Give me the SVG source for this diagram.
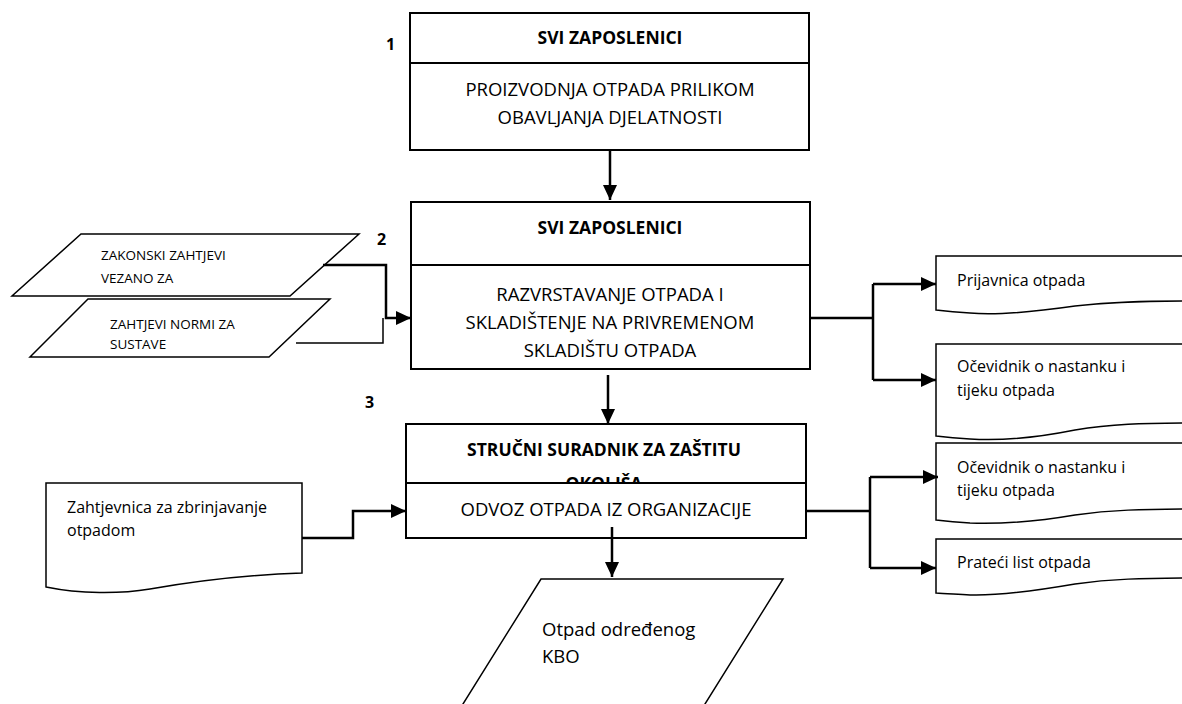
<svg xmlns="http://www.w3.org/2000/svg" width="1182" height="704" viewBox="0 0 1182 704">
<defs>
<style>
.box{fill:#fff;stroke:#000;stroke-width:2}
.shp{fill:#fff;stroke:#000;stroke-width:1.5}
.c{fill:none;stroke:#000;stroke-width:2.5}
.t{fill:none;stroke:#000;stroke-width:1.5}
.h{font-family:"Open Sans","Liberation Sans",sans-serif;font-weight:bold;font-size:17.5px;fill:#000;text-anchor:middle}
.m{font-family:"Open Sans","Liberation Sans",sans-serif;font-size:18.5px;fill:#000;text-anchor:middle}
.d{font-family:"Open Sans","Liberation Sans",sans-serif;font-size:16px;fill:#000}
.s{font-family:"Open Sans","Liberation Sans",sans-serif;font-size:13.5px;fill:#000}
.n{font-family:"Open Sans","Liberation Sans",sans-serif;font-weight:bold;font-size:16px;fill:#000}
</style>
<marker id="ar" markerUnits="userSpaceOnUse" markerWidth="15" markerHeight="14" refX="15" refY="7" orient="auto">
<path d="M0,0 L15,7 L0,14 z" fill="#000"/>
</marker>
<clipPath id="cp3"><rect x="406" y="424" width="400" height="58"/></clipPath>
</defs>

<g id="num">
<text class="n" x="386" y="50">1</text>
<text class="n" x="377" y="245">2</text>
<text class="n" x="365" y="408">3</text>
</g>

<g id="n1">
<rect class="box" x="410" y="13" width="399" height="137"/>
<line class="box" x1="410" y1="63" x2="809" y2="63"/>
<text class="h" x="610" y="44">SVI ZAPOSLENICI</text>
<text class="m" x="610" y="96">PROIZVODNJA OTPADA PRILIKOM</text>
<text class="m" x="610" y="124">OBAVLJANJA DJELATNOSTI</text>
</g>

<g id="n2">
<rect class="box" x="411" y="202" width="399" height="167"/>
<line class="box" x1="411" y1="265" x2="810" y2="265"/>
<text class="h" x="610" y="234">SVI ZAPOSLENICI</text>
<text class="m" x="610" y="301">RAZVRSTAVANJE OTPADA I</text>
<text class="m" x="610" y="329">SKLADIŠTENJE NA PRIVREMENOM</text>
<text class="m" x="610" y="357">SKLADIŠTU OTPADA</text>
</g>

<g id="n3">
<rect class="box" x="406" y="424" width="400" height="114"/>
<line class="box" x1="406" y1="483" x2="806" y2="483"/>
<text class="h" x="604" y="456">STRUČNI SURADNIK ZA ZAŠTITU</text>
<text class="h" x="604" y="490" clip-path="url(#cp3)">OKOLIŠA</text>
<text class="m" x="606" y="516">ODVOZ OTPADA IZ ORGANIZACIJE</text>
</g>

<g id="p1">
<polygon class="shp" points="81,234 359,234 290,296 12,296"/>
<text class="s" x="101" y="260">ZAKONSKI ZAHTJEVI</text>
<text class="s" x="101" y="283">VEZANO ZA</text>
</g>

<g id="p2">
<polygon class="shp" points="88,299 330,299 269,357 30,357"/>
<text class="s" x="110" y="329">ZAHTJEVI NORMI ZA</text>
<text class="s" x="110" y="349">SUSTAVE</text>
</g>

<g id="doc1">
<path class="shp" d="M936,256 H1200 V301 C1140,301 1110,302 1075,306 C1040,311 1000,316 970,313 C955,312 945,311 936,310 Z"/>
<text class="d" x="957" y="286">Prijavnica otpada</text>
</g>

<g id="doc2">
<path class="shp" d="M936,344 H1200 V423 C1140,423 1110,424 1075,430 C1040,437 1000,441 970,439 C955,438 945,437 936,436 Z"/>
<text class="d" x="957" y="372">Očevidnik o nastanku i</text>
<text class="d" x="957" y="396">tijeku otpada</text>
</g>

<g id="doc3">
<path class="shp" d="M936,443 H1200 V509 C1140,509 1110,510 1075,515 C1040,521 1000,524 970,523 C955,522 945,521 936,520 Z"/>
<text class="d" x="957" y="473">Očevidnik o nastanku i</text>
<text class="d" x="957" y="496">tijeku otpada</text>
</g>

<g id="doc4">
<path class="shp" d="M936,539 H1200 V578 C1140,578 1110,579 1075,584 C1040,590 1000,596 970,595 C955,594 945,594 936,593 Z"/>
<text class="d" x="957" y="568">Prateći list otpada</text>
</g>

<g id="doc5">
<path class="shp" d="M46,483 H302 V573 C240,575 190,582 150,589 C120,594 80,594 46,587 Z"/>
<text class="d" x="67" y="513">Zahtjevnica za zbrinjavanje</text>
<text class="d" x="67" y="536">otpadom</text>
</g>

<g id="out">
<path class="shp" d="M541,579 H783 L700,712 H458 Z"/>
<text class="d" x="542" y="636" style="font-size:18.5px">Otpad određenog</text>
<text class="d" x="542" y="663" style="font-size:18.5px">KBO</text>
</g>

<g id="connectors">
<line class="c" x1="610" y1="150" x2="610" y2="200" marker-end="url(#ar)"/>
<line class="c" x1="608" y1="375" x2="608" y2="424" marker-end="url(#ar)"/>
<line class="c" x1="612" y1="527" x2="612" y2="577" marker-end="url(#ar)"/>
<polyline class="c" points="323,265 386,265 386,318 411,318" marker-end="url(#ar)"/>
<polyline class="t" points="296,343 383,343 383,318"/>
<line class="c" x1="810" y1="318" x2="873" y2="318"/>
<line class="c" x1="873" y1="284" x2="873" y2="380"/>
<line class="c" x1="873" y1="284" x2="936" y2="284" marker-end="url(#ar)"/>
<line class="c" x1="873" y1="380" x2="936" y2="380" marker-end="url(#ar)"/>
<line class="c" x1="806" y1="511" x2="870" y2="511"/>
<line class="c" x1="870" y1="477" x2="870" y2="568"/>
<line class="c" x1="870" y1="477" x2="938" y2="477" marker-end="url(#ar)"/>
<line class="c" x1="870" y1="568" x2="936" y2="568" marker-end="url(#ar)"/>
<polyline class="c" points="302,538 353,538 353,511 406,511" marker-end="url(#ar)"/>
</g>
</svg>
